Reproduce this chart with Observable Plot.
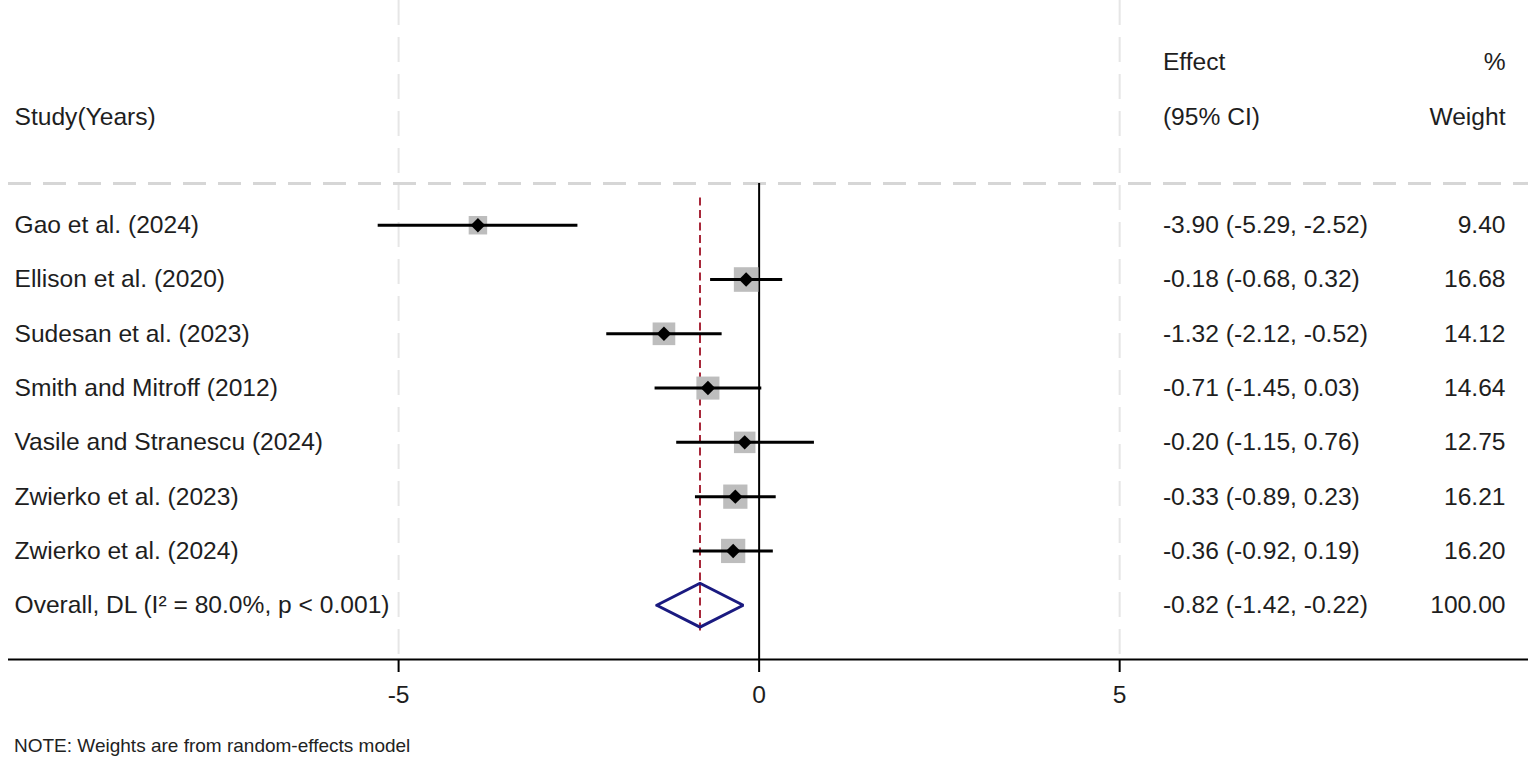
<!DOCTYPE html>
<html>
<head>
<meta charset="utf-8">
<script src="https://cdn.jsdelivr.net/npm/d3@7"></script>
<script src="https://cdn.jsdelivr.net/npm/@observablehq/plot@0.6"></script>
<style>
  body { margin: 0; background: #fff; font-family: "Liberation Sans", Arial, sans-serif; }
  svg { display: block; }
  #note { margin-top: 15px; padding-left: 14px; font-size: 19px; line-height: 22px; color: #222; }
</style>
</head>
<body>
<div id="chart"></div>
<div id="note">NOTE: Weights are from random-effects model</div>
<script>
// ---- data ----
const studies = [
  "Gao et al. (2024)",
  "Ellison et al. (2020)",
  "Sudesan et al. (2023)",
  "Smith and Mitroff (2012)",
  "Vasile and Stranescu (2024)",
  "Zwierko et al. (2023)",
  "Zwierko et al. (2024)"
];
const effects = [-3.90, -0.18, -1.32, -0.71, -0.20, -0.33, -0.36];
const lowers  = [-5.29, -0.68, -2.12, -1.45, -1.15, -0.89, -0.92];
const uppers  = [-2.52,  0.32, -0.52,  0.03,  0.76,  0.23,  0.19];
const weights = [9.40, 16.68, 14.12, 14.64, 12.75, 16.21, 16.20];

const overallLabel = "Overall, DL (I\u00B2 = 80.0%, p < 0.001)";
const overallEffect = -0.82, overallLower = -1.42, overallUpper = -0.22, overallWeight = 100.00;

const xTicks = [-5, 0, 5];
const headerTop = ["Effect", "%"];
const headerBottom = ["Study(Years)", "(95% CI)", "Weight"];

// ---- build tables ----
const rows = studies.map((s, i) => ({
  i, study: s, effect: effects[i], lower: lowers[i], upper: uppers[i], weight: weights[i]
}));
const fmt = v => v.toFixed(2);
const textRows = rows.map(d => ({i: d.i, label: d.study,
  ci: `${fmt(d.effect)} (${fmt(d.lower)}, ${fmt(d.upper)})`, w: fmt(d.weight)}));
const oi = rows.length;
textRows.push({i: oi, label: overallLabel,
  ci: `${fmt(overallEffect)} (${fmt(overallLower)}, ${fmt(overallUpper)})`, w: fmt(overallWeight)});

const sepY = -0.77;
const dh = 0.405;
const diamond = [
  {x: overallLower, y: oi}, {x: overallEffect, y: oi - dh},
  {x: overallUpper, y: oi}, {x: overallEffect, y: oi + dh},
  {x: overallLower, y: oi}
];

const colX = 5.6;
const textColor = "#1e1e1e";
const fs = 24.6;

const plot = Plot.plot({
  width: 1535,
  height: 720,
  marginLeft: 8,
  marginRight: 7,
  marginTop: 0,
  marginBottom: 61,
  style: {fontFamily: "'Liberation Sans', Arial, sans-serif", background: "#fff"},
  x: {domain: [-10.41, 10.67], axis: null},
  y: {domain: [-4.14, 8], reverse: true, axis: null},
  r: {type: "identity"},
  marks: [
    // vertical dashed gridlines
    Plot.ruleX(xTicks.filter(t => t !== 0), {stroke: "#e6e6e6", strokeWidth: 2, strokeDasharray: "25,12"}),
    // header separator
    Plot.ruleY([sepY], {stroke: "#d6d6d6", strokeWidth: 3, strokeDasharray: "23,12"}),
    // null line
    Plot.ruleX([0], {y1: sepY, y2: 8, stroke: "#000", strokeWidth: 2}),
    // overall effect dashed line
    Plot.ruleX([overallEffect], {y1: -0.5, y2: oi + 0.5, stroke: "#a8283a", strokeWidth: 2, strokeDasharray: "8,4.5"}),
    // weight boxes
    Plot.dot(rows, {x: "effect", y: "i", symbol: "square", r: d => 3.4 * Math.sqrt(d.weight), fill: "#bdbdbd", stroke: null}),
    // CIs
    Plot.link(rows, {x1: "lower", x2: "upper", y1: "i", y2: "i", stroke: "#000", strokeWidth: 3}),
    // point estimates
    Plot.dot(rows, {x: "effect", y: "i", symbol: "diamond2", r: 6.5, fill: "#000", stroke: null}),
    // overall diamond
    Plot.line(diamond, {x: "x", y: "y", stroke: "#1a1a80", strokeWidth: 3, strokeLinejoin: "miter"}),
    // axis line
    Plot.ruleY([8], {stroke: "#000", strokeWidth: 2}),
    Plot.axisX({ticks: xTicks, tickSize: 13, tickPadding: 13, fontSize: fs, stroke: "#000", strokeWidth: 2, tickFormat: d => String(d), color: textColor}),
    // headers
    Plot.text([headerTop[0]], {x: colX, y: -3, text: d => d, textAnchor: "start", fontSize: fs, fill: textColor}),
    Plot.text([headerTop[1]], {frameAnchor: "right", dx: -23, y: -3, text: d => d, textAnchor: "end", fontSize: fs, fill: textColor}),
    Plot.text([headerBottom[0]], {frameAnchor: "left", dx: 6, y: -2, text: d => d, textAnchor: "start", fontSize: fs, fill: textColor}),
    Plot.text([headerBottom[1]], {x: colX, y: -2, text: d => d, textAnchor: "start", fontSize: fs, fill: textColor}),
    Plot.text([headerBottom[2]], {frameAnchor: "right", dx: -23, y: -2, text: d => d, textAnchor: "end", fontSize: fs, fill: textColor}),
    // row texts
    Plot.text(textRows, {frameAnchor: "left", dx: 6, y: "i", text: "label", textAnchor: "start", fontSize: fs, fill: textColor}),
    Plot.text(textRows, {x: colX, y: "i", text: "ci", textAnchor: "start", fontSize: fs, fill: textColor}),
    Plot.text(textRows, {frameAnchor: "right", dx: -23, y: "i", text: "w", textAnchor: "end", fontSize: fs, fill: textColor})
  ]
});
document.getElementById("chart").appendChild(plot);
</script>
</body>
</html>
